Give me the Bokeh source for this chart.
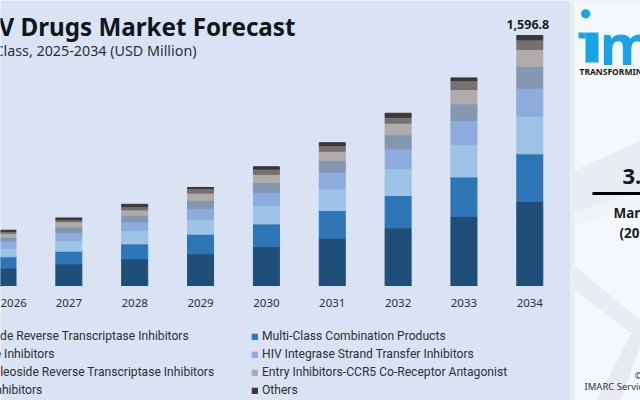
from bokeh.plotting import figure
from bokeh.models import (ColumnDataSource, Range1d, LinearAxis, FixedTicker, Legend, LegendItem,
                          Label, BoxAnnotation, PolyAnnotation)
from bokeh.core.properties import value
from bokeh.embed import file_html
from bokeh.resources import INLINE

years = [2026, 2027, 2028, 2029, 2030, 2031, 2032, 2033, 2034]
tick_labels = [str(y) for y in years]
total_label = "1,596.8"

nucleoside = [117, 144, 176, 208, 254, 307, 373, 445, 541]
multi_class = [72, 81, 95, 125, 144, 176, 206, 252, 303]
protease = [55, 68, 85, 95, 115, 138, 170, 206, 240]
integrase = [45, 49, 55, 70, 87, 106, 127, 153, 178]
non_nucleoside = [25, 36, 42, 51, 62, 74, 89, 106, 138]
entry_ccr5 = [25, 34, 34, 45, 51, 59, 74, 91, 108]
fusion = [11, 13, 21, 30, 34, 36, 38, 57, 61.5]
others = [8, 11, 15, 6, 15, 19, 25, 17, 27.3]

series_names = ["Nucleoside Reverse Transcriptase Inhibitors", "Multi-Class Combination Products",
                "Protease Inhibitors", "HIV Integrase Strand Transfer Inhibitors",
                "Non-Nucleoside Reverse Transcriptase Inhibitors", "Entry Inhibitors-CCR5 Co-Receptor Antagonist",
                "Fusion Inhibitors", "Others"]
series_values = [nucleoside, multi_class, protease, integrase, non_nucleoside, entry_ccr5, fusion, others]
colors = ["#1F4E79", "#2E75B6", "#9DC3E6", "#8FAADC", "#8497B0", "#AFABAB", "#767171", "#3B3838"]

BG = "#DAE3F3"
W, H = 640, 400
FONT = "Noto Sans"
LEGEND_FONT = "Roboto"

p = figure(width=W, height=H, output_backend="svg", toolbar_location=None,
           x_range=Range1d(2025.962, 2035.681), y_range=Range1d(-725.3, 1819.5),
           x_axis_location=None, y_axis_location=None, min_border=0,
           background_fill_color=BG, border_fill_color=BG, outline_line_color=None)
p.grid.visible = False

keys = [f"s{i}" for i in range(len(series_values))]
src = dict(x=years)
for k, v in zip(keys, series_values):
    src[k] = v
source = ColumnDataSource(src)
rs = p.vbar_stack(keys, x="x", width=0.395, color=colors, source=source)

ax = LinearAxis(fixed_location=0, ticker=FixedTicker(ticks=years),
                major_label_overrides={y: t for y, t in zip(years, tick_labels)})
ax.axis_line_color = "#D5DEEC"
ax.major_tick_line_color = None
ax.minor_tick_line_color = None
ax.major_label_standoff = 7
ax.major_label_text_font = FONT
ax.major_label_text_font_size = "11.5px"
ax.major_label_text_color = "#2B2F36"
p.add_layout(ax, "below")

totals = [sum(col) for col in zip(*series_values)]
p.text(x=[years[-1]], y=[totals[-1]], text=[total_label], text_align="center", text_baseline="bottom",
       text_font=value(FONT), text_font_style="bold", text_font_size="12.5px", text_color="#1A1D24",
       x_offset=-2, y_offset=-7)

legend = Legend(items=[LegendItem(label=n, renderers=[r]) for n, r in zip(series_names, rs)],
                ncols=2, location=(-58, 3), orientation="horizontal",
                background_fill_alpha=0, border_line_color=None, padding=0, margin=0,
                glyph_width=7, glyph_height=7, label_height=12, label_width=294, spacing=4, label_standoff=4,
                label_text_font=LEGEND_FONT, label_text_font_size="12.1px", label_text_color="#2B2F36")
p.add_layout(legend, "center")


def label(text, x, y, size, style="normal", color="#111827", align="left", font=FONT):
    p.add_layout(Label(x=x, y=H - y, x_units="screen", y_units="screen", text=text,
                       text_font=font, text_font_size=f"{size}px", text_font_style=style,
                       text_color=color, text_align=align, text_baseline="middle"))


def box(left, right, top, bottom, color):
    p.add_layout(BoxAnnotation(left=left, right=right, top=H - top, bottom=H - bottom,
                               left_units="screen", right_units="screen", top_units="screen", bottom_units="screen",
                               fill_color=color, fill_alpha=1, line_color=None))


label("HIV Drugs Market Forecast", 295, 26, 24.2, "bold", "#101520", "right")
label("By Drug Class, 2025-2034 (USD Million)", 196, 50, 14.3, "normal", "#2B2F36", "right")

box(570, W, 0, H, "#F5F8FB")
box(570, 574, 0, H, "#E8EEF6")
for xs, ys, c in [([574, 640, 640, 574], [170, 140, 190, 212], "#E9EDF3"),
                  ([574, 640, 640, 574], [212, 190, 205, 226], "#F0F3F8"),
                  ([574, 640, 640, 574], [265, 320, 340, 290], "#E9EDF3"),
                  ([596, 640, 640, 620], [400, 315, 345, 400], "#E7EBF1")]:
    p.add_layout(PolyAnnotation(xs=xs, ys=[H - v for v in ys], xs_units="screen", ys_units="screen",
                                fill_color=c, fill_alpha=1, line_color=None))

LOGO = "#1AA3E8"
box(585, 598, 32, 62, LOGO)
box(578, 585, 32, 38, LOGO)
label("m", 599, 42, 56, "bold", LOGO, "left", "Open Sans")
label("\u25CF", 585, 12, 12, "normal", LOGO, "center", "DejaVu Sans")
label("TRANSFORMING", 579, 71, 8.5, "bold", "#1A1D24")
label("3.", 622, 176, 22, "bold", "#101520")
box(592, W, 191.5, 194.5, "#000000")
label("Mar", 613, 212, 13.5, "bold", "#1A1D24")
label("(20", 619, 232, 13.5, "bold", "#1A1D24")
label("\u00A9", 634, 375, 9.5, "normal", "#333333")
label("IMARC Service", 584, 386, 9.5, "normal", "#333333")

open("out.html", "w").write(file_html(p, INLINE))
